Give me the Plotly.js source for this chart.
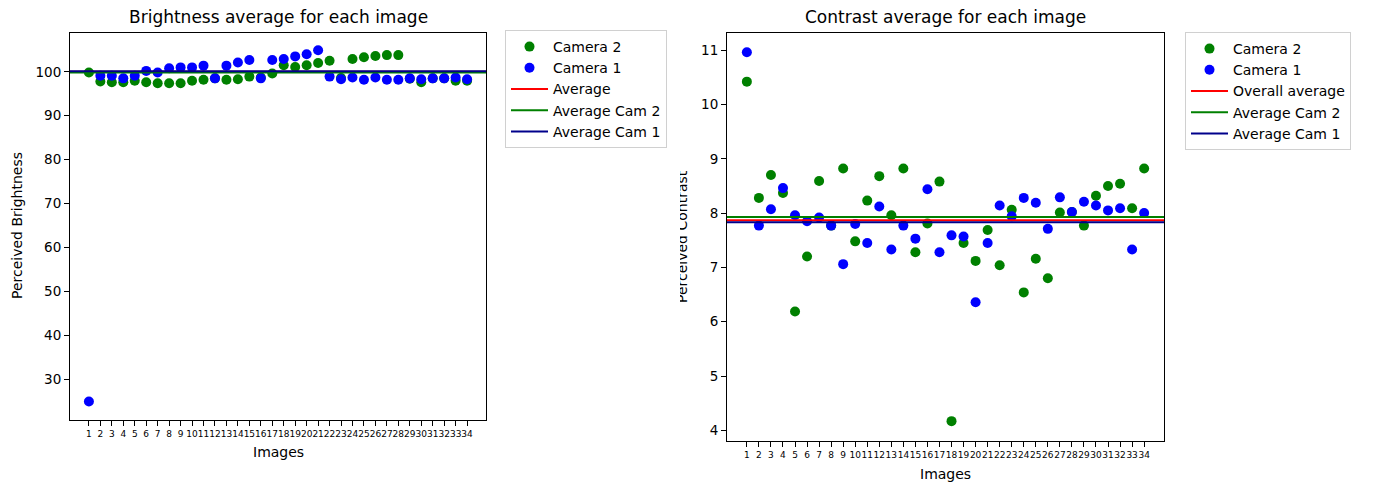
<!DOCTYPE html>
<html><head><meta charset="utf-8">
<script src="https://cdn.plot.ly/plotly-3.0.1.min.js"></script>
<style>html,body{margin:0;padding:0;background:#fff}#chart{width:1374px;height:485px}</style>
</head><body><div id="chart"></div>
<script>
const images = [1,2,3,4,5,6,7,8,9,10,11,12,13,14,15,16,17,18,19,20,21,22,23,24,25,26,27,28,29,30,31,32,33,34];
const tickLabels = images.map(String);

const brightnessCam2 = [99.85,97.8,97.6,97.6,97.95,97.6,97.4,97.4,97.4,97.95,98.2,98.5,98.2,98.3,98.9,98.7,99.6,101.5,101.1,101.5,102.0,102.5,98.6,102.9,103.3,103.6,103.8,103.8,98.4,97.6,98.5,98.5,97.95,97.95];
const brightnessCam1 = [24.9,99.1,99.1,98.5,99.1,100.2,99.85,100.8,101.0,101.0,101.4,98.5,101.4,102.1,102.7,98.5,102.7,102.9,103.5,104.0,104.9,98.9,98.3,98.7,98.2,98.7,98.2,98.2,98.5,98.3,98.5,98.5,98.7,98.3];
const brightnessAvg = 100.0;
const brightnessAvgCam2 = 99.85;
const brightnessAvgCam1 = 100.1;

const contrastCam2 = [10.42,8.28,8.70,8.37,6.19,7.20,8.59,7.77,8.82,7.48,8.23,8.68,7.96,8.82,7.28,7.81,8.58,4.17,7.45,7.12,7.69,7.04,8.06,6.54,7.16,6.80,8.01,8.02,7.77,8.32,8.50,8.54,8.09,8.82];
const contrastCam1 = [10.96,7.77,8.07,8.46,7.96,7.85,7.92,7.77,7.06,7.80,7.45,8.12,7.33,7.77,7.53,8.44,7.28,7.59,7.57,6.36,7.45,8.14,7.94,8.28,8.19,7.71,8.29,8.02,8.21,8.14,8.05,8.09,7.33,8.00];
const contrastAvg = 7.87;
const contrastAvgCam2 = 7.93;
const contrastAvgCam1 = 7.83;

const brightnessTicks = [30,40,50,60,70,80,90,100];
const contrastTicks = [4,5,6,7,8,9,10,11];

const W = 1374, H = 485;
const FONT = 'DejaVu Sans, sans-serif';
const span = images[images.length-1] - images[0];
const xRange = [images[0] - 0.05*span, images[images.length-1] + 0.05*span];
const px = v => v / W;
const py = v => 1 - v / H;

function scatter(y, name, color, xa, ya, lg) {
  return {x: images, y: y, name: name, type: 'scatter', mode: 'markers',
    marker: {color: color, size: 10}, xaxis: xa, yaxis: ya, legend: lg, cliponaxis: true};
}
function hline(v, name, color, xa, ya, lg) {
  return {x: xRange, y: [v, v], name: name, type: 'scatter', mode: 'lines',
    line: {color: color, width: 2}, xaxis: xa, yaxis: ya, legend: lg};
}

const data = [
  scatter(brightnessCam2, 'Camera 2', 'green', 'x', 'y', 'legend'),
  scatter(brightnessCam1, 'Camera 1', 'blue', 'x', 'y', 'legend'),
  hline(brightnessAvg, 'Average', 'red', 'x', 'y', 'legend'),
  hline(brightnessAvgCam2, 'Average Cam 2', 'green', 'x', 'y', 'legend'),
  hline(brightnessAvgCam1, 'Average Cam 1', 'darkblue', 'x', 'y', 'legend'),
  scatter(contrastCam2, 'Camera 2', 'green', 'x2', 'y2', 'legend2'),
  scatter(contrastCam1, 'Camera 1', 'blue', 'x2', 'y2', 'legend2'),
  hline(contrastAvg, 'Overall average', 'red', 'x2', 'y2', 'legend2'),
  hline(contrastAvgCam2, 'Average Cam 2', 'green', 'x2', 'y2', 'legend2'),
  hline(contrastAvgCam1, 'Average Cam 1', 'darkblue', 'x2', 'y2', 'legend2')
];

const axCommon = {showline: true, linecolor: '#000', linewidth: 1, mirror: true,
  ticks: 'outside', ticklen: 5, tickwidth: 1, tickcolor: '#000',
  showgrid: false, zeroline: false, fixedrange: true};

const xCommon = Object.assign({}, axCommon, {range: xRange, tickmode: 'array',
  tickvals: images, ticktext: tickLabels, tickfont: {family: FONT, size: 9, color: '#000'}, tickangle: 0});

const legendCommon = {bgcolor: '#fff', bordercolor: '#d0d0d0', borderwidth: 1, itemwidth: 37,
  font: {family: FONT, size: 14, color: '#000'}, xanchor: 'left', yanchor: 'top', tracegroupgap: 0};

function ann(text, x, y, size, extra) {
  return Object.assign({text: text, xref: 'paper', yref: 'paper', x: px(x), y: py(y),
    showarrow: false, xanchor: 'center', yanchor: 'middle',
    font: {family: FONT, size: size, color: '#000'}}, extra || {});
}

const layout = {
  width: W, height: H,
  margin: {l: 0, r: 0, t: 0, b: 0},
  paper_bgcolor: '#fff', plot_bgcolor: '#fff',
  font: {family: FONT, color: '#000'},
  xaxis: Object.assign({}, xCommon, {domain: [px(70), px(486)], anchor: 'y'}),
  yaxis: Object.assign({}, axCommon, {domain: [py(420), py(32.7)], anchor: 'x',
    range: [20.7, 108.9], tickmode: 'array', tickvals: brightnessTicks,
    tickfont: {family: FONT, size: 13.5, color: '#000'}}),
  xaxis2: Object.assign({}, xCommon, {domain: [px(727), px(1164)], anchor: 'y2'}),
  yaxis2: Object.assign({}, axCommon, {domain: [py(440.7), py(33.3)], anchor: 'x2',
    range: [3.81, 11.31], tickmode: 'array', tickvals: contrastTicks,
    tickfont: {family: FONT, size: 13.5, color: '#000'}}),
  legend: Object.assign({}, legendCommon, {x: px(505), y: py(30)}),
  legend2: Object.assign({}, legendCommon, {x: px(1185), y: py(32)}),
  showlegend: true,
  annotations: [
    ann('Brightness average for each image', 278, 17, 17),
    ann('Contrast average for each image', 945.5, 17, 17),
    ann('Images', 278, 452, 14),
    ann('Images', 945.5, 474, 14),
    ann('Perceived Brightness', 17, 226, 14, {textangle: -90}),
    ann('Perceived Contrast', 682, 237, 14, {textangle: -90}),
    ann('&nbsp;', 675.25, 237, 10, {width: 9, height: 220, bgcolor: '#ffffff', borderpad: 0, borderwidth: 0, bordercolor: 'rgba(0,0,0,0)'})
  ]
};

Plotly.newPlot('chart', data, layout, {displayModeBar: false, staticPlot: true});
</script>
</body></html>
